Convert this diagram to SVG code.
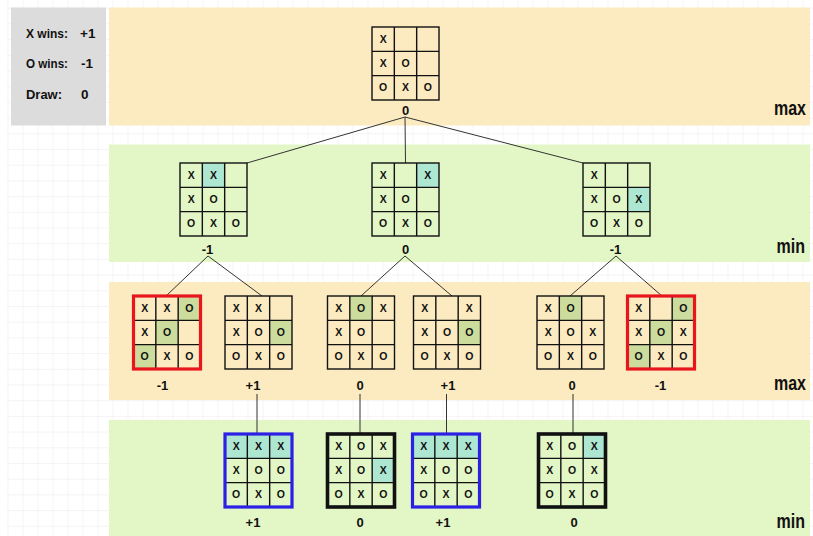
<svg xmlns="http://www.w3.org/2000/svg" width="813" height="536" viewBox="0 0 813 536">
  <defs>
    <pattern id="gridPat" x="7.5" y="7.7" width="15" height="15.7" patternUnits="userSpaceOnUse">
      <path d="M0 0 V15.7 M0 0 H15" fill="none" stroke="#E9E9EC" stroke-width="1"/>
    </pattern>
    <g id="lines">
      <rect x="0" y="0" width="67" height="73" fill="none"/>
      <path d="M22.33 0 V73 M44.67 0 V73 M0 24.33 H67 M0 48.67 H67" fill="none"/>
    </g>
  </defs>
  <style>
    .lbl { font-family: "Liberation Sans", Arial, sans-serif; font-weight: bold; fill: #111; }
    .val { font-size: 13px; text-anchor: middle; }
    .lvl { font-size: 16px; text-anchor: end; }
    .leg { font-size: 13.5px; }
    .cell { font-family: "Liberation Sans", Arial, sans-serif; font-weight: bold; font-size: 10.5px; text-anchor: middle; fill: #111; }
    .bl { stroke: #111; stroke-width: 1.4; }
    .teal { fill: #ADE6D1; }
    .olive { fill: #CCDC9D; }
    .red { fill: none; stroke: #E8161C; stroke-width: 3.2; }
    .blue { fill: none; stroke: #2B20E4; stroke-width: 3.2; }
    .heavy { fill: none; stroke: #111; stroke-width: 3.6; }
    .edge { stroke: #333; stroke-width: 1; fill: none; }
  </style>

  <!-- page background with light grid -->
  <rect x="0" y="0" width="813" height="536" fill="#FFFFFF"/>
  <rect x="7" y="0" width="806" height="536" fill="url(#gridPat)"/>

  <!-- level bands -->
  <rect x="109" y="7.5" width="701" height="118" fill="#FCEBC1"/>
  <rect x="109" y="144.5" width="701" height="117.5" fill="#E3F6C5"/>
  <rect x="109" y="282" width="701" height="118" fill="#FCEBC1"/>
  <rect x="109" y="420" width="701" height="116" fill="#E3F6C5"/>

  <!-- legend -->
  <g id="legend">
    <rect x="11" y="7.5" width="95" height="118" fill="#DCDCDC"/>
    <text class="lbl leg" x="26" y="38" textLength="42" lengthAdjust="spacingAndGlyphs">X wins:</text>
    <text class="lbl leg" x="80" y="38">+1</text>
    <text class="lbl leg" x="26" y="68" textLength="42" lengthAdjust="spacingAndGlyphs">O wins:</text>
    <text class="lbl leg" x="81" y="68">-1</text>
    <text class="lbl leg" x="26" y="99" textLength="36" lengthAdjust="spacingAndGlyphs">Draw:</text>
    <text class="lbl leg" x="81" y="99">0</text>
  </g>

  <!-- level labels (stretched vertically for a tall, heavy look) -->
  <text class="lbl lvl" transform="translate(806,115) scale(1,1.3)">max</text>
  <text class="lbl lvl" transform="translate(805,253) scale(1,1.3)">min</text>
  <text class="lbl lvl" transform="translate(806,390) scale(1,1.3)">max</text>
  <text class="lbl lvl" transform="translate(805,528) scale(1,1.3)">min</text>

  <!-- connectors -->
  <g id="connectors">
    <line class="edge" x1="405" y1="117" x2="247" y2="163"/>
    <line class="edge" x1="405" y1="117" x2="405.5" y2="163"/>
    <line class="edge" x1="405" y1="117" x2="583" y2="163"/>
    <line class="edge" x1="208" y1="256" x2="166" y2="296"/>
    <line class="edge" x1="208" y1="256" x2="262" y2="296"/>
    <line class="edge" x1="405" y1="256" x2="361" y2="296"/>
    <line class="edge" x1="405" y1="256" x2="452" y2="296"/>
    <line class="edge" x1="616" y1="256" x2="570" y2="296"/>
    <line class="edge" x1="616" y1="256" x2="662" y2="296"/>
    <line class="edge" x1="257" y1="394" x2="257" y2="434"/>
    <line class="edge" x1="360" y1="394" x2="360" y2="434"/>
    <line class="edge" x1="446.5" y1="394" x2="446.5" y2="434"/>
    <line class="edge" x1="573" y1="394" x2="573" y2="434"/>
  </g>

  <!-- root: max to move -->
  <g id="root" transform="translate(372,27)">
    <use href="#lines" class="bl"/>
    <text class="cell" x="11.2" y="15.8">X</text>
    <text class="cell" x="11.2" y="40.1">X</text><text class="cell" x="33.5" y="40.1">O</text>
    <text class="cell" x="11.2" y="64.4">O</text><text class="cell" x="33.5" y="64.4">X</text><text class="cell" x="55.8" y="64.4">O</text>
  </g>
  <text class="lbl val" x="405.5" y="115">0</text>

  <!-- level 1 (min) -->
  <g id="n1a" transform="translate(180,163)">
    <rect class="teal" x="22.33" y="0" width="22.33" height="24.33"/>
    <use href="#lines" class="bl"/>
    <text class="cell" x="11.2" y="15.8">X</text><text class="cell" x="33.5" y="15.8">X</text>
    <text class="cell" x="11.2" y="40.1">X</text><text class="cell" x="33.5" y="40.1">O</text>
    <text class="cell" x="11.2" y="64.4">O</text><text class="cell" x="33.5" y="64.4">X</text><text class="cell" x="55.8" y="64.4">O</text>
  </g>
  <text class="lbl val" x="207.5" y="254">-1</text>

  <g id="n1b" transform="translate(372,163)">
    <rect class="teal" x="44.67" y="0" width="22.33" height="24.33"/>
    <use href="#lines" class="bl"/>
    <text class="cell" x="11.2" y="15.8">X</text><text class="cell" x="55.8" y="15.8">X</text>
    <text class="cell" x="11.2" y="40.1">X</text><text class="cell" x="33.5" y="40.1">O</text>
    <text class="cell" x="11.2" y="64.4">O</text><text class="cell" x="33.5" y="64.4">X</text><text class="cell" x="55.8" y="64.4">O</text>
  </g>
  <text class="lbl val" x="405.5" y="254">0</text>

  <g id="n1c" transform="translate(583,163)">
    <rect class="teal" x="44.67" y="24.33" width="22.33" height="24.33"/>
    <use href="#lines" class="bl"/>
    <text class="cell" x="11.2" y="15.8">X</text>
    <text class="cell" x="11.2" y="40.1">X</text><text class="cell" x="33.5" y="40.1">O</text><text class="cell" x="55.8" y="40.1">X</text>
    <text class="cell" x="11.2" y="64.4">O</text><text class="cell" x="33.5" y="64.4">X</text><text class="cell" x="55.8" y="64.4">O</text>
  </g>
  <text class="lbl val" x="615.5" y="254">-1</text>

  <!-- level 2 (max) -->
  <g id="n2a" transform="translate(133.5,296)">
    <rect class="olive" x="44.67" y="0" width="22.33" height="24.33"/>
    <rect class="olive" x="22.33" y="24.33" width="22.33" height="24.33"/>
    <rect class="olive" x="0" y="48.67" width="22.33" height="24.33"/>
    <use href="#lines" class="bl"/>
    <rect class="red" x="0" y="0" width="67" height="73"/>
    <text class="cell" x="11.2" y="15.8">X</text><text class="cell" x="33.5" y="15.8">X</text><text class="cell" x="55.8" y="15.8">O</text>
    <text class="cell" x="11.2" y="40.1">X</text><text class="cell" x="33.5" y="40.1">O</text>
    <text class="cell" x="11.2" y="64.4">O</text><text class="cell" x="33.5" y="64.4">X</text><text class="cell" x="55.8" y="64.4">O</text>
  </g>
  <text class="lbl val" x="162.5" y="390">-1</text>

  <g id="n2b" transform="translate(225,296)">
    <rect class="olive" x="44.67" y="24.33" width="22.33" height="24.33"/>
    <use href="#lines" class="bl"/>
    <text class="cell" x="11.2" y="15.8">X</text><text class="cell" x="33.5" y="15.8">X</text>
    <text class="cell" x="11.2" y="40.1">X</text><text class="cell" x="33.5" y="40.1">O</text><text class="cell" x="55.8" y="40.1">O</text>
    <text class="cell" x="11.2" y="64.4">O</text><text class="cell" x="33.5" y="64.4">X</text><text class="cell" x="55.8" y="64.4">O</text>
  </g>
  <text class="lbl val" x="253" y="390">+1</text>

  <g id="n2c" transform="translate(327.5,296)">
    <rect class="olive" x="22.33" y="0" width="22.33" height="24.33"/>
    <use href="#lines" class="bl"/>
    <text class="cell" x="11.2" y="15.8">X</text><text class="cell" x="33.5" y="15.8">O</text><text class="cell" x="55.8" y="15.8">X</text>
    <text class="cell" x="11.2" y="40.1">X</text><text class="cell" x="33.5" y="40.1">O</text>
    <text class="cell" x="11.2" y="64.4">O</text><text class="cell" x="33.5" y="64.4">X</text><text class="cell" x="55.8" y="64.4">O</text>
  </g>
  <text class="lbl val" x="360" y="390">0</text>

  <g id="n2d" transform="translate(413.5,296)">
    <rect class="olive" x="44.67" y="24.33" width="22.33" height="24.33"/>
    <use href="#lines" class="bl"/>
    <text class="cell" x="11.2" y="15.8">X</text><text class="cell" x="55.8" y="15.8">X</text>
    <text class="cell" x="11.2" y="40.1">X</text><text class="cell" x="33.5" y="40.1">O</text><text class="cell" x="55.8" y="40.1">O</text>
    <text class="cell" x="11.2" y="64.4">O</text><text class="cell" x="33.5" y="64.4">X</text><text class="cell" x="55.8" y="64.4">O</text>
  </g>
  <text class="lbl val" x="448" y="390">+1</text>

  <g id="n2e" transform="translate(537,296)">
    <rect class="olive" x="22.33" y="0" width="22.33" height="24.33"/>
    <use href="#lines" class="bl"/>
    <text class="cell" x="11.2" y="15.8">X</text><text class="cell" x="33.5" y="15.8">O</text>
    <text class="cell" x="11.2" y="40.1">X</text><text class="cell" x="33.5" y="40.1">O</text><text class="cell" x="55.8" y="40.1">X</text>
    <text class="cell" x="11.2" y="64.4">O</text><text class="cell" x="33.5" y="64.4">X</text><text class="cell" x="55.8" y="64.4">O</text>
  </g>
  <text class="lbl val" x="572" y="390">0</text>

  <g id="n2f" transform="translate(627.5,296)">
    <rect class="olive" x="44.67" y="0" width="22.33" height="24.33"/>
    <rect class="olive" x="22.33" y="24.33" width="22.33" height="24.33"/>
    <rect class="olive" x="0" y="48.67" width="22.33" height="24.33"/>
    <use href="#lines" class="bl"/>
    <rect class="red" x="0" y="0" width="67" height="73"/>
    <text class="cell" x="11.2" y="15.8">X</text><text class="cell" x="55.8" y="15.8">O</text>
    <text class="cell" x="11.2" y="40.1">X</text><text class="cell" x="33.5" y="40.1">O</text><text class="cell" x="55.8" y="40.1">X</text>
    <text class="cell" x="11.2" y="64.4">O</text><text class="cell" x="33.5" y="64.4">X</text><text class="cell" x="55.8" y="64.4">O</text>
  </g>
  <text class="lbl val" x="660.5" y="390">-1</text>

  <!-- level 3 (min), terminal boards -->
  <g id="n3a" transform="translate(225,434)">
    <rect class="teal" x="0" y="0" width="67" height="24.33"/>
    <use href="#lines" class="bl"/>
    <rect class="blue" x="0" y="0" width="67" height="73"/>
    <text class="cell" x="11.2" y="15.8">X</text><text class="cell" x="33.5" y="15.8">X</text><text class="cell" x="55.8" y="15.8">X</text>
    <text class="cell" x="11.2" y="40.1">X</text><text class="cell" x="33.5" y="40.1">O</text><text class="cell" x="55.8" y="40.1">O</text>
    <text class="cell" x="11.2" y="64.4">O</text><text class="cell" x="33.5" y="64.4">X</text><text class="cell" x="55.8" y="64.4">O</text>
  </g>
  <text class="lbl val" x="253" y="527">+1</text>

  <g id="n3b" transform="translate(327.5,434)">
    <rect class="teal" x="44.67" y="24.33" width="22.33" height="24.33"/>
    <use href="#lines" class="bl"/>
    <rect class="heavy" x="0" y="0" width="67" height="73"/>
    <text class="cell" x="11.2" y="15.8">X</text><text class="cell" x="33.5" y="15.8">O</text><text class="cell" x="55.8" y="15.8">X</text>
    <text class="cell" x="11.2" y="40.1">X</text><text class="cell" x="33.5" y="40.1">O</text><text class="cell" x="55.8" y="40.1">X</text>
    <text class="cell" x="11.2" y="64.4">O</text><text class="cell" x="33.5" y="64.4">X</text><text class="cell" x="55.8" y="64.4">O</text>
  </g>
  <text class="lbl val" x="360" y="527">0</text>

  <g id="n3c" transform="translate(412.5,434)">
    <rect class="teal" x="0" y="0" width="67" height="24.33"/>
    <use href="#lines" class="bl"/>
    <rect class="blue" x="0" y="0" width="67" height="73"/>
    <text class="cell" x="11.2" y="15.8">X</text><text class="cell" x="33.5" y="15.8">X</text><text class="cell" x="55.8" y="15.8">X</text>
    <text class="cell" x="11.2" y="40.1">X</text><text class="cell" x="33.5" y="40.1">O</text><text class="cell" x="55.8" y="40.1">O</text>
    <text class="cell" x="11.2" y="64.4">O</text><text class="cell" x="33.5" y="64.4">X</text><text class="cell" x="55.8" y="64.4">O</text>
  </g>
  <text class="lbl val" x="443" y="527">+1</text>

  <g id="n3d" transform="translate(538.5,434)">
    <rect class="teal" x="44.67" y="0" width="22.33" height="24.33"/>
    <use href="#lines" class="bl"/>
    <rect class="heavy" x="0" y="0" width="67" height="73"/>
    <text class="cell" x="11.2" y="15.8">X</text><text class="cell" x="33.5" y="15.8">O</text><text class="cell" x="55.8" y="15.8">X</text>
    <text class="cell" x="11.2" y="40.1">X</text><text class="cell" x="33.5" y="40.1">O</text><text class="cell" x="55.8" y="40.1">X</text>
    <text class="cell" x="11.2" y="64.4">O</text><text class="cell" x="33.5" y="64.4">X</text><text class="cell" x="55.8" y="64.4">O</text>
  </g>
  <text class="lbl val" x="574" y="527">0</text>
</svg>
